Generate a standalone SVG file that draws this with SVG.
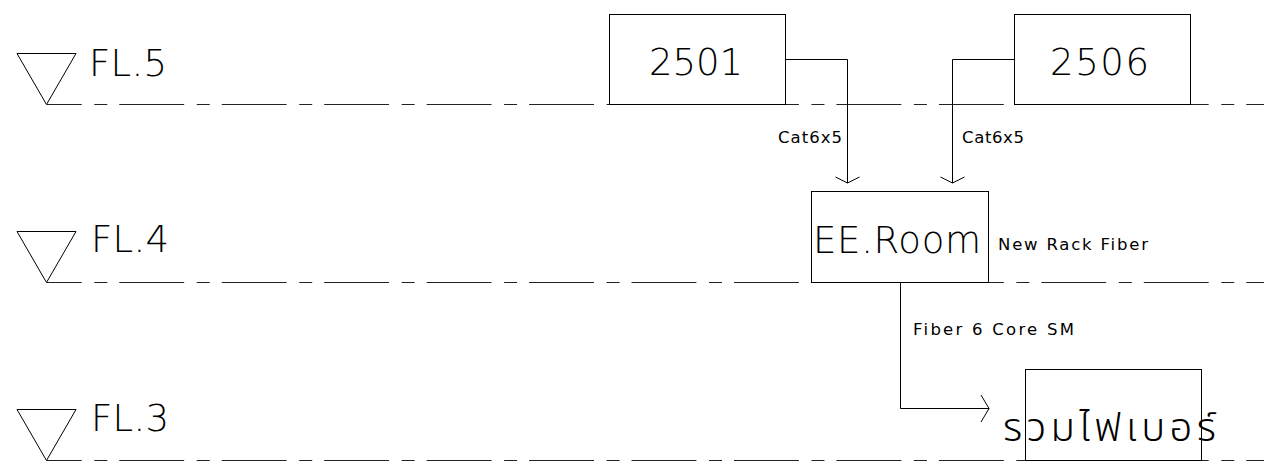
<svg xmlns="http://www.w3.org/2000/svg" width="1264" height="462" viewBox="0 0 1264 462">
<style>
.lvl{fill:none;stroke:#222;stroke-width:1.2;stroke-dasharray:64.85 12.6 13 12;stroke-dashoffset:30.15}
.tri{fill:none;stroke:#000;stroke-width:1}
.box{fill:none;stroke:#000;stroke-width:1}
.wire{fill:none;stroke:#000;stroke-width:1}
.big{font-family:"DejaVu Sans","Liberation Sans",sans-serif;font-weight:200;font-size:37px;fill:#000}
.sm{font-family:"DejaVu Sans","Liberation Sans",sans-serif;font-size:16.5px;fill:#000}
.thai{font-family:"Noto Sans Thai","Noto Sans","DejaVu Sans",sans-serif;font-weight:300;font-size:40px;fill:#000}
</style>
<rect width="1264" height="462" fill="#fff"/>
<g id="level-fl5">
<path class="lvl" d="M47 104.5H1264"/>
<path class="tri" d="M17 53.5H76L46.5 104.5Z"/>
<text class="big" x="89" y="75.7" textLength="78" lengthAdjust="spacing">FL.5</text>
</g>
<g id="level-fl4">
<path class="lvl" d="M47 282.5H1264"/>
<path class="tri" d="M17 231.5H76L46.5 282.5Z"/>
<text class="big" x="91" y="252.3" textLength="78" lengthAdjust="spacing">FL.4</text>
</g>
<g id="level-fl3">
<path class="lvl" d="M47 460.5H1264"/>
<path class="tri" d="M17 409.5H76L46.5 460.5Z"/>
<text class="big" x="91" y="430.7" textLength="78" lengthAdjust="spacing">FL.3</text>
</g>
<g id="connectors">
<path class="wire" d="M785.5 59.5H847.5V183"/>
<path class="wire" d="M835.5 177L847.5 183L859.5 177"/>
<path class="wire" d="M1014.5 59.5H952.5V183"/>
<path class="wire" d="M940.5 177L952.5 183L964.5 177"/>
<path class="wire" d="M900.5 282.5V408.5H989"/>
<path class="wire" d="M981 395L989 408.5L981 422"/>
<text class="sm" x="778" y="142.5" textLength="64" lengthAdjust="spacing">Cat6x5</text>
<text class="sm" x="962" y="142.5" textLength="62" lengthAdjust="spacing">Cat6x5</text>
<text class="sm" x="913" y="335" textLength="161" lengthAdjust="spacing">Fiber 6 Core SM</text>
</g>
<g id="node-2501">
<rect class="box" x="609.5" y="14.5" width="176" height="90"/>
<text class="big" x="649" y="75" textLength="94" lengthAdjust="spacing">2501</text>
</g>
<g id="node-2506">
<rect class="box" x="1014.5" y="14.5" width="176" height="90"/>
<text class="big" x="1050" y="75" textLength="99" lengthAdjust="spacing">2506</text>
</g>
<g id="node-ee-room">
<rect class="box" x="811.5" y="191.5" width="177" height="91"/>
<text class="big" x="813" y="252.7" font-size="36" textLength="168" lengthAdjust="spacing">EE.Room</text>
<text class="sm" x="998" y="250" font-size="17" textLength="150" lengthAdjust="spacing">New Rack Fiber</text>
</g>
<g id="node-fiber-hub">
<rect class="box" x="1025.5" y="369.5" width="176" height="91"/>
<text class="thai" x="1003" y="441" textLength="213" lengthAdjust="spacing">รวมไฟเบอร์</text>
</g>
</svg>
